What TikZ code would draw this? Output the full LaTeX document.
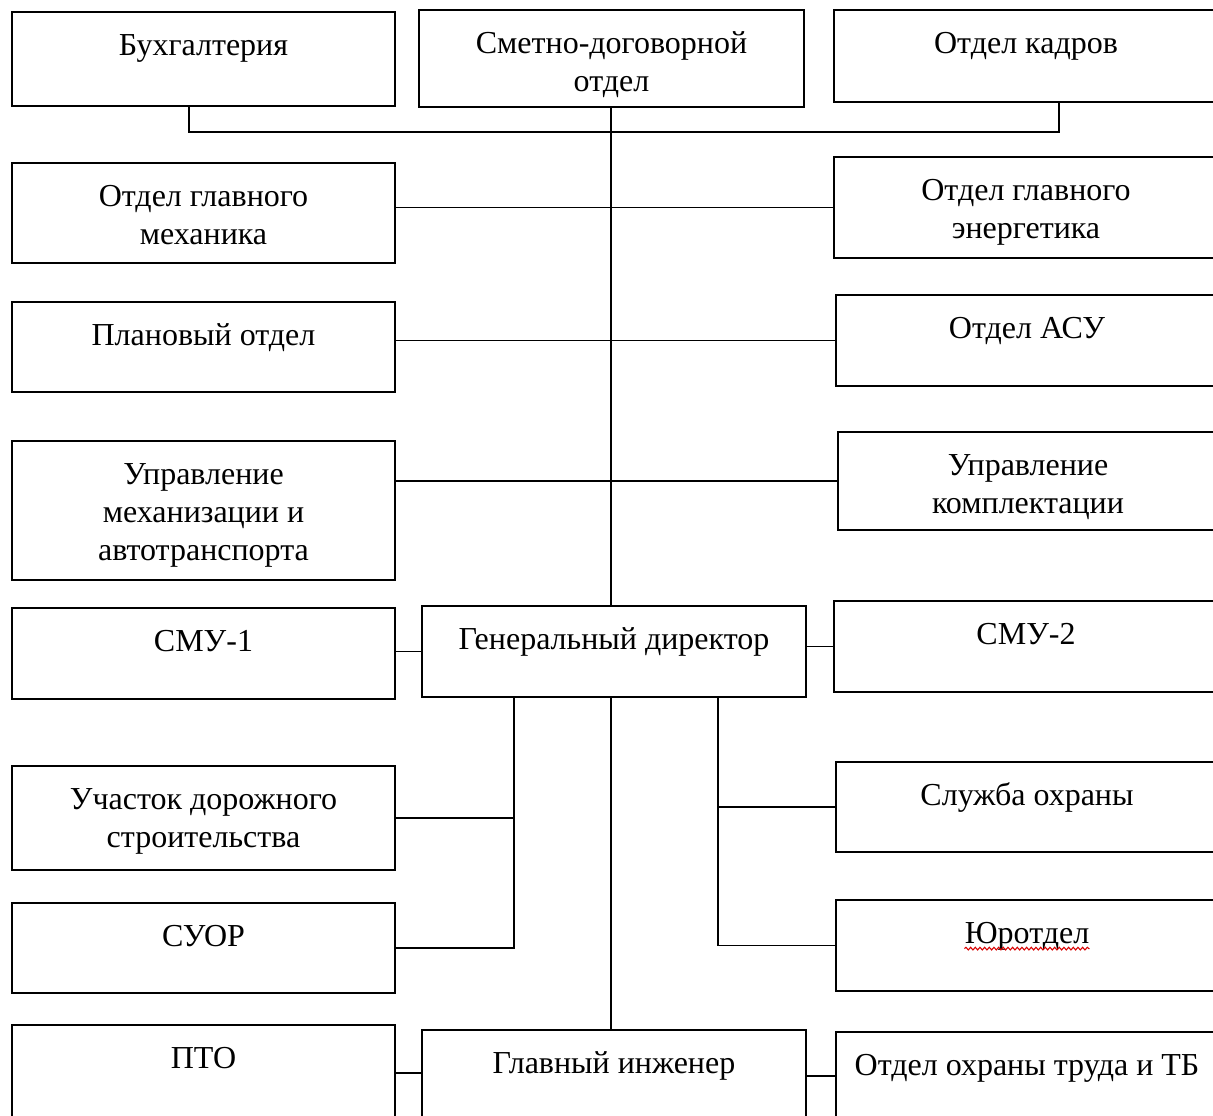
\documentclass[tikz,border=0pt]{standalone}
\usepackage{fontspec}
\setmainfont{Liberation Serif}
\usetikzlibrary{fit,decorations.pathmorphing}
\tikzset{
  orgbox/.style={draw, line width=2pt, inner sep=0pt, fit={#1}},
  txt/.style={align=center, inner sep=0pt, anchor=north, font=\fontsize{24}{28.5}\selectfont},
  conn/.style={line width=1pt}
}
\newcommand\obox[3]{%
  \node[orgbox={#2}] (#1) {};
  \node[txt] (#1t) at ([yshift=-13.3pt]#1.north) {\strut #3};
}
\begin{document}
\begin{tikzpicture}[x=0.75pt,y=-0.75pt]
\useasboundingbox (0,0) rectangle (1213,1115);
\clip (0,0) rectangle (1213,1115);
\fill[white] (0,0) rectangle (1213,1115);

\obox{buh}{(12,12)(395,106)}{Бухгалтерия}
\obox{sm}{(419,10)(804,107)}{Сметно-договорной\\отдел}
\obox{kad}{(834,10)(1218,102)}{Отдел кадров}
\obox{mech}{(12,163)(395,263)}{Отдел главного\\механика}
\obox{energ}{(834,157)(1218,258)}{Отдел главного\\энергетика}
\obox{plan}{(12,302)(395,392)}{Плановый отдел}
\obox{asu}{(836,295)(1218,386)}{Отдел АСУ}
\obox{umech}{(12,441)(395,580)}{Управление\\механизации и\\автотранспорта}
\obox{ukom}{(838,432)(1218,530)}{Управление\\комплектации}
\obox{smu1}{(12,608)(395,699)}{СМУ-1}
\obox{gd}{(422,606)(806,697)}{Генеральный директор}
\obox{smu2}{(834,601)(1218,692)}{СМУ-2}
\obox{uch}{(12,766)(395,870)}{Участок дорожного\\строительства}
\obox{slu}{(836,762)(1218,852)}{Служба охраны}
\obox{suor}{(12,903)(395,993)}{СУОР}
\obox{yur}{(836,900)(1218,991)}{Юротдел}
\obox{pto}{(12,1025)(395,1121)}{ПТО}
\obox{gi}{(422,1030)(806,1122)}{Главный инженер}
\obox{oot}{(836,1032)(1218,1120)}{Отдел охраны труда и ТБ}

% spell-check underline
\draw[red!85!black, line width=0.8pt, decorate, decoration={snake, amplitude=1pt, segment length=3.5pt}]
  ([yshift=-4pt]yurt.base west) -- ([yshift=-4pt]yurt.base east);

% coordinates of junction lines
\coordinate (bl) at (189,132);
\coordinate (kr) at (1059,132);
\coordinate (cx) at (611,0);
\coordinate (lb) at (514,0);
\coordinate (rb) at (718,0);

% top group
\draw[conn] (buh.south -| bl) -- (bl) -- (kr) -- (kad.south -| kr);
\draw[conn] (sm.south -| cx) -- (gd.north -| cx);

% horizontal pairs
\draw[conn] (mech.east |- energ.west) -- (energ.west);
\draw[conn] (plan.east |- asu.west) -- (asu.west);
\draw[conn] (umech.east |- ukom.west) -- (ukom.west);
\draw[conn] (smu1.east |- gd.west) -- (gd.west);
\draw[conn] (gd.east |- smu2.west) -- (smu2.west);

% left branch
\draw[conn] (gd.south -| lb) |- (suor.east);
\draw[conn] (uch.east) -- (uch.east -| lb);

% right branch
\draw[conn] (gd.south -| rb) |- (yur.west);
\draw[conn] (slu.west) -- (slu.west -| rb);

% down to chief engineer
\draw[conn] (gd.south -| cx) -- (gi.north -| cx);
\draw[conn] (pto.east) -- (gi.west |- pto.east);
\draw[conn] (gi.east |- oot.west) -- (oot.west);
\end{tikzpicture}
\end{document}
